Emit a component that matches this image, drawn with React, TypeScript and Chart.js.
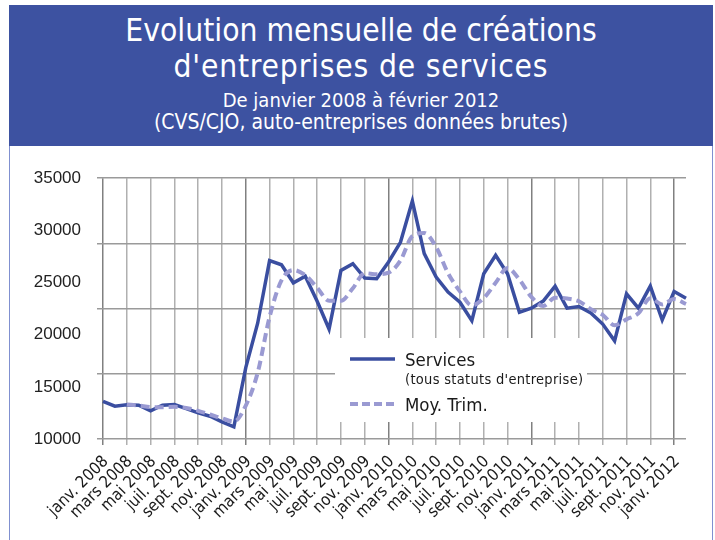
import React, { useEffect, useRef } from "react";
import { Chart, registerables } from "chart.js";

Chart.register(...registerables);

// ---- Data ----
const monthNames = ["janv.", "févr.", "mars", "avr.", "mai", "juin", "juil.", "août", "sept.", "oct.", "nov.", "déc."];
const years = [2008, 2009, 2010, 2011, 2012];
const categories: string[] = [];
years.forEach((yr) => {
  monthNames.forEach((m, mi) => {
    if (yr < 2012 || mi < 2) categories.push(`${m} ${yr}`);
  });
});

const services = [
  13600, 13150, 13280, 13240, 12700, 13240, 13300, 12920, 12500, 12180, 11640, 11160,
  16850, 21100, 27100, 26700, 24970, 25600, 23200, 20540, 26160, 26810, 25430, 25360,
  26970, 28850, 32820, 27770, 25530, 24080, 23110, 21340, 25840, 27610, 25840, 22150,
  22540, 23220, 24660, 22540, 22700, 22080, 21020, 19410, 23920, 22540, 24660, 21410,
  24140, 23500,
];

const moyTrim = [
  null, null, 13300, 13220, 13060, 13050, 13080, 12980, 12700, 12350, 11980, 11680,
  13200, 16350, 21700, 25200, 26200, 25700, 24500, 23250, 23250, 24450, 25900, 25800,
  25950, 27100, 29450, 29750, 28400, 25900, 24150, 22800, 23500, 24980, 26380, 25280,
  23620, 22750, 23550, 23470, 23200, 22450, 21900, 20900, 21470, 22050, 23500, 22900,
  23420, 22940,
];

const yTicks = [10000, 15000, 20000, 25000, 30000, 35000];

const titleLines = ["Evolution mensuelle de créations", "d'entreprises de services"];
const subtitleLines = ["De janvier 2008 à février 2012", "(CVS/CJO, auto-entreprises données brutes)"];
const legendLabels = ["Services", "(tous statuts d'entreprise)", "Moy. Trim."];

const SERVICES_COLOR = "#3a4ea0";
const MOY_COLOR = "#9a9ad2";
const HEADER_BG = "#3d52a1";
const DIN = '"DejaVu Sans Condensed", "DejaVu Sans", sans-serif';

const legendPlugin = {
  id: "customLegend",
  afterDraw(chart: any) {
    const ctx = chart.ctx as CanvasRenderingContext2D;
    ctx.save();
    ctx.fillStyle = "#ffffff";
    ctx.fillRect(335, 192, 252, 84);
    ctx.lineCap = "butt";
    ctx.strokeStyle = SERVICES_COLOR;
    ctx.lineWidth = 3.5;
    ctx.beginPath();
    ctx.moveTo(350, 213);
    ctx.lineTo(395, 213);
    ctx.stroke();
    ctx.strokeStyle = MOY_COLOR;
    ctx.lineWidth = 4;
    ctx.setLineDash([8, 4]);
    ctx.beginPath();
    ctx.moveTo(350, 258);
    ctx.lineTo(396, 258);
    ctx.stroke();
    ctx.setLineDash([]);
    ctx.fillStyle = "#1a1a1a";
    ctx.textAlign = "left";
    ctx.textBaseline = "alphabetic";
    ctx.font = `18.5px ${DIN}`;
    ctx.fillText(legendLabels[0], 405, 220);
    ctx.font = `14.5px ${DIN}`;
    (ctx as any).letterSpacing = "0.3px";
    ctx.fillText(legendLabels[1], 405, 238);
    (ctx as any).letterSpacing = "0px";
    ctx.font = `18.5px ${DIN}`;
    ctx.fillText(legendLabels[2], 405, 265);
    ctx.restore();
  },
};

function ChartView() {
  const ref = useRef<HTMLCanvasElement>(null);
  useEffect(() => {
    if (!ref.current) return;
    const chart = new Chart(ref.current, {
      type: "line",
      data: {
        labels: categories,
        datasets: [
          {
            label: legendLabels[0],
            data: services,
            borderColor: SERVICES_COLOR,
            borderWidth: 3.5,
            pointRadius: 0,
            tension: 0,
            fill: false,
            order: 2,
            yAxisID: "y",
          },
          {
            label: legendLabels[2],
            data: moyTrim,
            borderColor: MOY_COLOR,
            borderWidth: 4,
            borderDash: [9, 5],
            pointRadius: 0,
            tension: 0.35,
            cubicInterpolationMode: "monotone",
            fill: false,
            order: 1,
            yAxisID: "y",
          },
        ],
      },
      options: {
        responsive: false,
        animation: false,
        devicePixelRatio: 1,
        layout: { padding: { left: 0, right: 29, top: 32, bottom: 0 } },
        plugins: { legend: { display: false }, tooltip: { enabled: false }, title: { display: false } },
        scales: {
          x: {
            type: "category",
            offset: false,
            border: { display: false },
            grid: {
              color: (c: any) =>
                c.index % 2 === 0 ? (c.index % 12 === 0 ? "#808080" : "#b0b0b0") : "rgba(0,0,0,0)",
              lineWidth: 1.5,
              tickLength: 6,
              drawTicks: true,
            },
            ticks: {
              autoSkip: false,
              maxRotation: 45,
              minRotation: 45,
              padding: 7,
              labelOffset: 3,
              color: "#1a1a1a",
              font: { family: DIN, size: 16.5 },
              callback: (_v: any, i: number) => (i % 2 === 0 ? categories[i] : ""),
            },
            afterFit: (s: any) => {
              s.height = 101;
            },
          },
          y: {
            type: "linear",
            position: "left",
            weight: 1,
            min: yTicks[0],
            max: yTicks[yTicks.length - 1],
            afterBuildTicks: (s: any) => {
              s.ticks = yTicks.map((v) => ({ value: v }));
            },
            border: { display: false },
            grid: { display: false, drawTicks: false },
            ticks: {
              padding: 22,
              color: "#222222",
              font: { family: '"Liberation Sans", Arial, sans-serif', size: 17 },
              callback: (v: any) => String(v),
            },
            afterFit: (s: any) => {
              s.width = 103;
            },
          },
          yGrid: {
            type: "linear",
            position: "left",
            weight: 0,
            min: 0,
            max: 4,
            ticks: { display: false, stepSize: 1 },
            border: { display: false },
            grid: { color: "#9a9a9a", lineWidth: 1.5, tickLength: 6 },
            afterFit: (s: any) => {
              s.width = 0;
            },
          },
        },
      },
      plugins: [legendPlugin],
    });
    return () => chart.destroy();
  }, []);
  return (
    <canvas
      ref={ref}
      width={715}
      height={394}
      style={{ position: "absolute", left: 0, top: 146, width: 715, height: 394 }}
    />
  );
}

export default function App() {
  const line = (text: string, top: number, size: number, spacing = 0) => (
    <div
      style={{
        position: "absolute",
        left: 0,
        width: 704,
        top,
        textAlign: "center",
        fontFamily: DIN,
        fontSize: size,
        lineHeight: `${size}px`,
        letterSpacing: spacing,
        color: "#ffffff",
        whiteSpace: "nowrap",
      }}
    >
      {text}
    </div>
  );
  return (
    <div style={{ position: "absolute", left: 0, top: 0, width: 715, height: 540, background: "#ffffff", overflow: "hidden" }}>
      <div style={{ position: "absolute", left: 9, top: 5, width: 704, height: 141, background: HEADER_BG }}>
        {line(titleLines[0], 10.3, 31.5)}
        {line(titleLines[1], 46.4, 31.5, 0.8)}
        {line(subtitleLines[0], 84.5, 20)}
        {line(subtitleLines[1], 107, 21)}
      </div>
      <div style={{ position: "absolute", left: 9, top: 146, width: 1, height: 394, background: "#8090d0" }} />
      <div style={{ position: "absolute", left: 712, top: 146, width: 1, height: 394, background: "#8090d0" }} />
      <ChartView />
    </div>
  );
}
